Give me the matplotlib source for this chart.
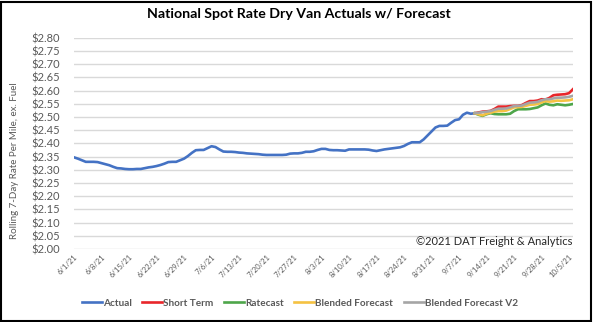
import matplotlib
matplotlib.use("Agg")
import matplotlib.pyplot as plt
from matplotlib.patches import Rectangle
from matplotlib.ticker import FuncFormatter, MultipleLocator
import pandas as pd


# daily values, 6/1/21 .. 9/11/21
actual = [2.347, 2.342, 2.336, 2.330, 2.330, 2.330, 2.329, 2.325, 2.321, 2.317,
          2.311, 2.306, 2.305, 2.303, 2.302, 2.302, 2.303, 2.303, 2.306, 2.309,
          2.311, 2.314, 2.318, 2.323, 2.329, 2.330, 2.330, 2.336, 2.342, 2.352,
          2.364, 2.374, 2.375, 2.375, 2.382, 2.389, 2.386, 2.377, 2.369, 2.368,
          2.368, 2.367, 2.365, 2.364, 2.362, 2.361, 2.360, 2.359, 2.357, 2.356,
          2.356, 2.356, 2.356, 2.356, 2.357, 2.361, 2.362, 2.362, 2.364, 2.368,
          2.368, 2.370, 2.375, 2.379, 2.379, 2.375, 2.374, 2.374, 2.373, 2.372,
          2.377, 2.377, 2.377, 2.377, 2.377, 2.376, 2.373, 2.371, 2.374, 2.377,
          2.379, 2.381, 2.383, 2.385, 2.390, 2.398, 2.404, 2.404, 2.404, 2.415,
          2.430, 2.445, 2.460, 2.466, 2.466, 2.467, 2.478, 2.488, 2.491, 2.508,
          2.516, 2.512, 2.514]

# forecasts, 9/11/21 .. 10/6/21
short_term = [2.514, 2.517, 2.520, 2.521, 2.523, 2.530, 2.539, 2.539, 2.539, 2.541,
              2.542, 2.542, 2.545, 2.553, 2.560, 2.560, 2.562, 2.567, 2.566, 2.572,
              2.582, 2.584, 2.585, 2.586, 2.590, 2.605]
ratecast = [2.514, 2.508, 2.504, 2.510, 2.514, 2.511, 2.510, 2.510, 2.510, 2.512,
            2.522, 2.529, 2.529, 2.529, 2.530, 2.533, 2.536, 2.544, 2.551, 2.546,
            2.544, 2.548, 2.546, 2.544, 2.546, 2.549]
blended = [2.514, 2.510, 2.506, 2.512, 2.516, 2.520, 2.522, 2.522, 2.524, 2.530,
           2.536, 2.537, 2.538, 2.542, 2.546, 2.547, 2.549, 2.555, 2.560, 2.558,
           2.559, 2.562, 2.561, 2.562, 2.563, 2.567]
blended_v2 = [2.514, 2.516, 2.518, 2.520, 2.522, 2.527, 2.531, 2.531, 2.532, 2.536,
              2.541, 2.542, 2.543, 2.549, 2.554, 2.555, 2.557, 2.563, 2.567, 2.567,
              2.570, 2.573, 2.573, 2.574, 2.576, 2.580]

actual_dates = pd.date_range("2021-06-01", periods=len(actual))
fc_dates = pd.date_range(actual_dates[-1], periods=len(short_term))
tick_dates = pd.date_range("2021-06-01", "2021-10-05", freq="7D")

plt.rcParams['font.family'] = ['Lato', 'DejaVu Sans']

fig = plt.figure(figsize=(5.94, 3.22), dpi=100)
ax = fig.add_axes([0.1246, 0.2267, 0.84, 0.6563])

ax.plot(actual_dates, actual, color="#4472C4", lw=1.9, label="Actual")
ax.plot(fc_dates, short_term, color="#E8262A", lw=1.9, label="Short Term")
ax.plot(fc_dates, ratecast, color="#4EA64A", lw=1.9, label="Ratecast")
ax.plot(fc_dates, blended, color="#F5C242", lw=1.9, label="Blended Forecast")
ax.plot(fc_dates, blended_v2, color="#A5A5A5", lw=1.9, label="Blended Forecast V2")

ax.set_xlim(actual_dates[0], fc_dates[-1])
ax.set_ylim(2.0, 2.8)
ax.yaxis.set_major_locator(MultipleLocator(0.05))
ax.yaxis.set_major_formatter(FuncFormatter(lambda v, p: f"${v:.2f}"))
ax.set_xticks(tick_dates)
ax.set_xticklabels([f"{d.month}/{d.day}/21" for d in tick_dates])

ax.grid(axis="y", color="#D9D9D9", lw=1)
ax.set_axisbelow(True)
for s in ax.spines.values():
    s.set_visible(False)
ax.tick_params(axis="y", length=0, pad=10, labelsize=8, labelcolor="#595959")
ax.tick_params(axis="x", length=0, pad=3, labelsize=5.5, labelcolor="#595959")
for lbl in ax.get_xticklabels():
    lbl.set_rotation(45)
    lbl.set_ha("right")
    lbl.set_va("top")
    lbl.set_rotation_mode("anchor")

ax.set_ylabel("Rolling 7-Day Rate Per Mile, ex. Fuel", fontsize=7, color="#595959")
ax.yaxis.set_label_coords(-0.11, 0.42)

ax.text(0.998, 0.01, "©2021 DAT Freight & Analytics", transform=ax.transAxes,
        ha="right", va="bottom", fontsize=8, color="#262626")

fig.suptitle("National Spot Rate Dry Van Actuals w/ Forecast", x=0.503, y=0.975,
             fontsize=10.2, fontweight="bold", color="black")

fig.legend(loc="center", bbox_to_anchor=(0.505, 0.058), ncol=5, frameon=False,
           handlelength=2.0, handletextpad=0.1, columnspacing=1.05,
           prop={"size": 7.2, "weight": "bold"}, labelcolor="#595959")

fig.patches.append(Rectangle((0.002, 0.004), 0.993, 0.99, transform=fig.transFigure,
                             fill=False, edgecolor="black", lw=1.5))

fig.savefig("out.png", dpi=100)
